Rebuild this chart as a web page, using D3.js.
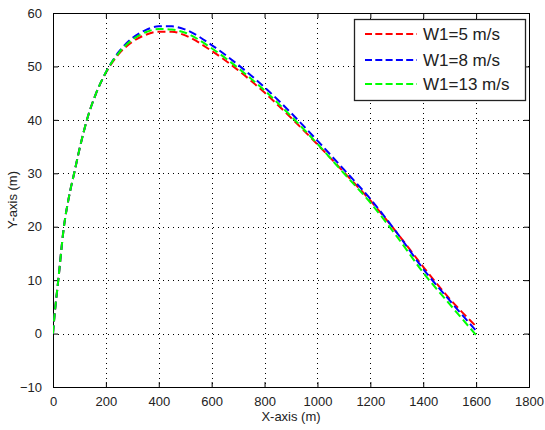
<!DOCTYPE html>
<html>
<head>
<meta charset="utf-8">
<script src="https://cdn.jsdelivr.net/npm/d3@7"></script>
<style>
  html, body { margin: 0; padding: 0; background: #fff; }
  svg { display: block; }
  text { font-family: "Liberation Sans", Arial, Helvetica, sans-serif; fill: #222; }
</style>
</head>
<body>
<svg id="chart" width="545" height="430"></svg>
<script>
// ---- data ----
const xTicks = [0, 200, 400, 600, 800, 1000, 1200, 1400, 1600, 1800];
const yTicks = [-10, 0, 10, 20, 30, 40, 50, 60];
const seriesNames = ["W1=5 m/s", "W1=8 m/s", "W1=13 m/s"];
const seriesColors = ["#ff0000", "#0000ff", "#00ff00"];

const xW5 = [0, 5, 10, 20, 40, 60, 80, 100, 130, 160, 200, 250, 300, 350, 400, 450, 500, 600, 700, 800, 900, 1000, 1100, 1200, 1300, 1400, 1500, 1595];
const yW5 = [0, 3, 5.5, 10, 19.5, 25.5, 30, 34.5, 40.3, 44.6, 48.8, 52.4, 54.6, 55.9, 56.5, 56.5, 55.8, 52.9, 49.3, 45.1, 40.4, 35.4, 30.2, 24.9, 18.9, 12.5, 6.5, 1.6];

const xW8 = [0, 5, 10, 20, 40, 60, 80, 100, 130, 160, 200, 250, 300, 350, 400, 450, 500, 600, 700, 800, 900, 1000, 1100, 1200, 1300, 1400, 1500, 1602];
const yW8 = [0, 3, 5.5, 10, 19.5, 25.5, 30, 34.5, 40.3, 44.6, 48.9, 52.8, 55.3, 56.8, 57.5, 57.5, 56.9, 54.0, 50.3, 46.1, 41.3, 36.1, 30.7, 25.2, 18.9, 12.1, 6.2, 0.4];

const xW13 = [0, 5, 10, 20, 40, 60, 80, 100, 130, 160, 200, 250, 300, 350, 400, 450, 500, 600, 700, 800, 900, 1000, 1100, 1200, 1300, 1400, 1500, 1602];
const yW13 = [0, 3, 5.5, 10, 19.5, 25.5, 30, 34.5, 40.3, 44.6, 48.9, 52.6, 55.0, 56.4, 57.0, 56.9, 56.3, 53.4, 49.7, 45.5, 40.7, 35.5, 30.0, 24.5, 18.2, 11.4, 5.5, -0.4];

const series = [
  { name: seriesNames[0], color: seriesColors[0], x: xW5, y: yW5 },
  { name: seriesNames[1], color: seriesColors[1], x: xW8, y: yW8 },
  { name: seriesNames[2], color: seriesColors[2], x: xW13, y: yW13 }
];

// ---- layout ----
const L = 53, R = 529, T = 13, B = 387;
const svg = d3.select("#chart");
const x = d3.scaleLinear().domain([0, 1800]).range([L, R]);
const y = d3.scaleLinear().domain([-10, 60]).range([B, T]);

svg.append("rect").attr("x", 0).attr("y", 0).attr("width", 545).attr("height", 430).attr("fill", "#fff");
svg.append("rect").attr("x", L).attr("y", T).attr("width", R - L).attr("height", B - T).attr("fill", "#fff");

// grid
const grid = svg.append("g").attr("stroke", "#000").attr("stroke-width", 1).attr("stroke-dasharray", "1,4").attr("shape-rendering", "crispEdges");
xTicks.slice(1, -1).forEach(v => {
  grid.append("line").attr("x1", Math.round(x(v)) + 0.5).attr("x2", Math.round(x(v)) + 0.5).attr("y1", T).attr("y2", B);
});
yTicks.slice(1, -1).forEach(v => {
  grid.append("line").attr("y1", Math.round(y(v)) + 0.5).attr("y2", Math.round(y(v)) + 0.5).attr("x1", L).attr("x2", R);
});

// axes with inward ticks
const tickLen = 5;
const fmt = d3.format("d");
const axB = svg.append("g").attr("transform", `translate(0,${B})`)
  .call(d3.axisBottom(x).tickValues(xTicks).tickSize(-tickLen).tickPadding(10).tickFormat(fmt));
const axT = svg.append("g").attr("transform", `translate(0,${T})`)
  .call(d3.axisTop(x).tickValues(xTicks).tickSize(-tickLen).tickFormat(""));
const axL = svg.append("g").attr("transform", `translate(${L},0)`)
  .call(d3.axisLeft(y).tickValues(yTicks).tickSize(-tickLen).tickPadding(11).tickFormat(fmt));
const axR = svg.append("g").attr("transform", `translate(${R},0)`)
  .call(d3.axisRight(y).tickValues(yTicks).tickSize(-tickLen).tickFormat(""));
[axB, axT, axL, axR].forEach(a => {
  a.selectAll("path").attr("stroke", "#000");
  a.selectAll("line").attr("stroke", "#000");
  a.selectAll("text").style("font-size", "13px").attr("fill", "#222")
    .style("font-family", "'Liberation Sans', Arial, sans-serif");
});

// axis labels
svg.append("text").attr("x", (L + R) / 2).attr("y", 421).attr("text-anchor", "middle")
  .style("font-size", "13px").text("X-axis (m)");
svg.append("text").attr("transform", `translate(17,${(T + B) / 2}) rotate(-90)`).attr("text-anchor", "middle")
  .style("font-size", "13px").text("Y-axis (m)");

// lines
const clip = svg.append("clipPath").attr("id", "clip").append("rect")
  .attr("x", L).attr("y", T).attr("width", R - L).attr("height", B - T);
const lineGen = d3.line().x(d => x(d[0])).y(d => y(d[1])).curve(d3.curveMonotoneX);
series.forEach(s => {
  const pts = s.x.map((xv, i) => [xv, s.y[i]]);
  svg.append("path").attr("d", lineGen(pts)).attr("fill", "none")
    .attr("stroke", s.color).attr("stroke-width", 2).attr("stroke-dasharray", "8,4")
    .attr("clip-path", "url(#clip)");
});

// legend
const lg = svg.append("g");
lg.append("rect").attr("x", 354.5).attr("y", 19.5).attr("width", 171).attr("height", 81)
  .attr("fill", "#fff").attr("stroke", "#222").attr("stroke-width", 1.3);
const rowsY = [34, 60, 84];
series.forEach((s, i) => {
  lg.append("line").attr("x1", 365).attr("x2", 417).attr("y1", rowsY[i]).attr("y2", rowsY[i])
    .attr("stroke", s.color).attr("stroke-width", 2).attr("stroke-dasharray", "7,3.3");
  lg.append("text").attr("x", 423).attr("y", rowsY[i] + 6).style("font-size", "17px").text(s.name);
});
</script>
</body>
</html>
